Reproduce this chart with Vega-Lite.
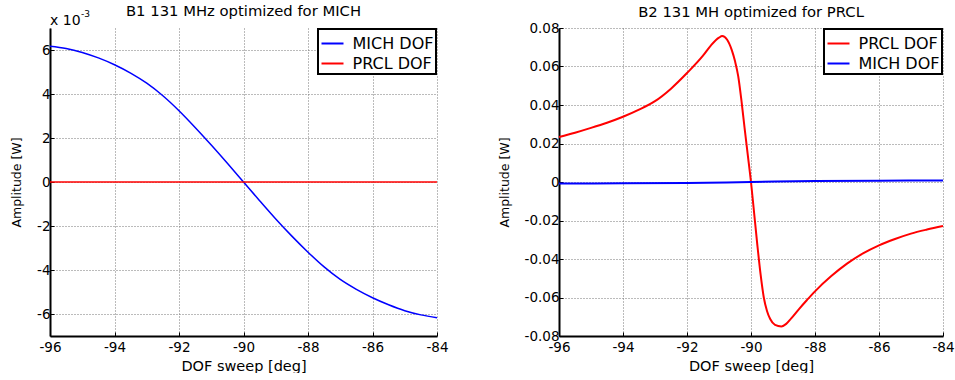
{
  "$schema": "https://vega.github.io/schema/vega-lite/v6.json",
  "background": "white",
  "padding": {"left": 10, "top": 4, "right": 0, "bottom": 0},
  "spacing": 49,
  "config": {
    "view": {"stroke": null},
    "font": "DejaVu Sans",
    "axis": {
      "domainColor": "black", "domainWidth": 2,
      "tickColor": "black", "tickSize": -4, "tickWidth": 1,
      "grid": true, "gridColor": "#777777", "gridDash": [1, 2], "gridWidth": 1, "gridOpacity": 1,
      "labelFlush": false, "labelOverlap": false,
      "labelFont": "DejaVu Sans", "labelFontSize": 13.5, "labelColor": "black",
      "titleFont": "DejaVu Sans", "titleFontWeight": "normal", "titleColor": "black"
    },
    "axisX": {"labelPadding": 8, "titlePadding": 6, "titleFontSize": 14.5},
    "axisY": {"labelPadding": 4, "titlePadding": 13, "titleFontSize": 12.5},
    "title": {"font": "DejaVu Sans", "fontSize": 14.8, "fontWeight": "normal", "color": "black"},
    "legend": {
      "orient": "top-right", "offset": 1, "title": null,
      "strokeColor": "black", "strokeWidth": 2, "fillColor": "white", "padding": 2.5,
      "symbolType": "stroke", "symbolSize": 484, "symbolStrokeWidth": 2,
      "labelFont": "DejaVu Sans", "labelFontSize": 16, "labelColor": "black", "labelOffset": 8,
      "rowPadding": -2
    }
  },
  "datasets": {
    "left": [
      {"deg": -96, "amp": 6.17, "series": "MICH DOF"},
      {"deg": -95.5, "amp": 6.07, "series": "MICH DOF"},
      {"deg": -95, "amp": 5.89, "series": "MICH DOF"},
      {"deg": -94.5, "amp": 5.64, "series": "MICH DOF"},
      {"deg": -94, "amp": 5.33, "series": "MICH DOF"},
      {"deg": -93.5, "amp": 4.95, "series": "MICH DOF"},
      {"deg": -93, "amp": 4.49, "series": "MICH DOF"},
      {"deg": -92.5, "amp": 3.92, "series": "MICH DOF"},
      {"deg": -92, "amp": 3.24, "series": "MICH DOF"},
      {"deg": -91.5, "amp": 2.48, "series": "MICH DOF"},
      {"deg": -91, "amp": 1.68, "series": "MICH DOF"},
      {"deg": -90.5, "amp": 0.85, "series": "MICH DOF"},
      {"deg": -90, "amp": 0, "series": "MICH DOF"},
      {"deg": -89.5, "amp": -0.85, "series": "MICH DOF"},
      {"deg": -89, "amp": -1.68, "series": "MICH DOF"},
      {"deg": -88.5, "amp": -2.46, "series": "MICH DOF"},
      {"deg": -88, "amp": -3.19, "series": "MICH DOF"},
      {"deg": -87.5, "amp": -3.86, "series": "MICH DOF"},
      {"deg": -87, "amp": -4.43, "series": "MICH DOF"},
      {"deg": -86.5, "amp": -4.88, "series": "MICH DOF"},
      {"deg": -86, "amp": -5.26, "series": "MICH DOF"},
      {"deg": -85.5, "amp": -5.58, "series": "MICH DOF"},
      {"deg": -85, "amp": -5.85, "series": "MICH DOF"},
      {"deg": -84.5, "amp": -6.04, "series": "MICH DOF"},
      {"deg": -84, "amp": -6.17, "series": "MICH DOF"},
      {"deg": -96, "amp": 0, "series": "PRCL DOF"},
      {"deg": -93, "amp": 0, "series": "PRCL DOF"},
      {"deg": -90, "amp": 0, "series": "PRCL DOF"},
      {"deg": -87, "amp": 0, "series": "PRCL DOF"},
      {"deg": -84, "amp": 0, "series": "PRCL DOF"}
    ],
    "right": [
      {"deg": -96, "amp": 0.0234, "series": "PRCL DOF"},
      {"deg": -95.5, "amp": 0.0256, "series": "PRCL DOF"},
      {"deg": -95, "amp": 0.0281, "series": "PRCL DOF"},
      {"deg": -94.5, "amp": 0.0308, "series": "PRCL DOF"},
      {"deg": -94, "amp": 0.0339, "series": "PRCL DOF"},
      {"deg": -93.5, "amp": 0.0376, "series": "PRCL DOF"},
      {"deg": -93, "amp": 0.0420, "series": "PRCL DOF"},
      {"deg": -92.5, "amp": 0.0485, "series": "PRCL DOF"},
      {"deg": -92, "amp": 0.0566, "series": "PRCL DOF"},
      {"deg": -91.5, "amp": 0.0656, "series": "PRCL DOF"},
      {"deg": -91.25, "amp": 0.0710, "series": "PRCL DOF"},
      {"deg": -91, "amp": 0.0750, "series": "PRCL DOF"},
      {"deg": -90.9, "amp": 0.0758, "series": "PRCL DOF"},
      {"deg": -90.75, "amp": 0.0740, "series": "PRCL DOF"},
      {"deg": -90.6, "amp": 0.0685, "series": "PRCL DOF"},
      {"deg": -90.5, "amp": 0.0628, "series": "PRCL DOF"},
      {"deg": -90.4, "amp": 0.0550, "series": "PRCL DOF"},
      {"deg": -90.3, "amp": 0.0425, "series": "PRCL DOF"},
      {"deg": -90.2, "amp": 0.0280, "series": "PRCL DOF"},
      {"deg": -90.1, "amp": 0.0140, "series": "PRCL DOF"},
      {"deg": -90, "amp": 0, "series": "PRCL DOF"},
      {"deg": -89.9, "amp": -0.0165, "series": "PRCL DOF"},
      {"deg": -89.8, "amp": -0.0330, "series": "PRCL DOF"},
      {"deg": -89.7, "amp": -0.0480, "series": "PRCL DOF"},
      {"deg": -89.6, "amp": -0.0600, "series": "PRCL DOF"},
      {"deg": -89.5, "amp": -0.0670, "series": "PRCL DOF"},
      {"deg": -89.4, "amp": -0.0712, "series": "PRCL DOF"},
      {"deg": -89.25, "amp": -0.0742, "series": "PRCL DOF"},
      {"deg": -89.05, "amp": -0.0750, "series": "PRCL DOF"},
      {"deg": -88.9, "amp": -0.0737, "series": "PRCL DOF"},
      {"deg": -88.75, "amp": -0.0710, "series": "PRCL DOF"},
      {"deg": -88.5, "amp": -0.0660, "series": "PRCL DOF"},
      {"deg": -88.25, "amp": -0.0613, "series": "PRCL DOF"},
      {"deg": -88, "amp": -0.0568, "series": "PRCL DOF"},
      {"deg": -87.5, "amp": -0.0490, "series": "PRCL DOF"},
      {"deg": -87, "amp": -0.0424, "series": "PRCL DOF"},
      {"deg": -86.5, "amp": -0.0371, "series": "PRCL DOF"},
      {"deg": -86, "amp": -0.0329, "series": "PRCL DOF"},
      {"deg": -85.5, "amp": -0.0296, "series": "PRCL DOF"},
      {"deg": -85, "amp": -0.0268, "series": "PRCL DOF"},
      {"deg": -84.5, "amp": -0.0247, "series": "PRCL DOF"},
      {"deg": -84, "amp": -0.0229, "series": "PRCL DOF"},
      {"deg": -96, "amp": -0.0008, "series": "MICH DOF"},
      {"deg": -94, "amp": -0.0007, "series": "MICH DOF"},
      {"deg": -92, "amp": -0.0005, "series": "MICH DOF"},
      {"deg": -90, "amp": 0, "series": "MICH DOF"},
      {"deg": -88, "amp": 0.0005, "series": "MICH DOF"},
      {"deg": -86, "amp": 0.0007, "series": "MICH DOF"},
      {"deg": -84, "amp": 0.0008, "series": "MICH DOF"}
    ]
  },
  "resolve": {"scale": {"color": "independent", "x": "independent", "y": "independent"}, "legend": {"color": "independent"}},
  "hconcat": [
    {
      "width": 387, "height": 308,
      "title": {"text": "B1 131 MHz optimized for MICH", "offset": -9},
      "layer": [
        {
          "data": {"name": "left"},
          "mark": {"type": "line", "strokeWidth": 1.5, "interpolate": "monotone"},
          "encoding": {
            "x": {"field": "deg", "type": "quantitative", "title": "DOF sweep [deg]",
                  "scale": {"domain": [-96, -84], "nice": false},
                  "axis": {"values": [-96, -94, -92, -90, -88, -86, -84], "labelExpr": "datum.value + ''"}},
            "y": {"field": "amp", "type": "quantitative", "title": "Amplitude [W]",
                  "scale": {"domain": [-7, 7], "nice": false},
                  "axis": {"values": [-6, -4, -2, 0, 2, 4, 6], "labelExpr": "datum.value + ''"}},
            "color": {"field": "series", "type": "nominal",
                      "scale": {"domain": ["MICH DOF", "PRCL DOF"], "range": ["#0000ff", "#ff0000"]},
                      "legend": {"orient": "top-right"}}
          }
        },
        {
          "data": {"values": [{}]},
          "mark": {"type": "text", "text": "x 10", "align": "left", "baseline": "alphabetic", "dy": -3, "fontSize": 14, "font": "DejaVu Sans", "color": "black"},
          "encoding": {"x": {"datum": -96}, "y": {"datum": 7}}
        },
        {
          "data": {"values": [{}]},
          "mark": {"type": "text", "text": "-3", "align": "left", "baseline": "alphabetic", "dx": 31, "dy": -11, "fontSize": 9, "font": "DejaVu Sans", "color": "black"},
          "encoding": {"x": {"datum": -96}, "y": {"datum": 7}}
        }
      ]
    },
    {
      "width": 384, "height": 308,
      "title": {"text": "B2 131 MH optimized for PRCL", "offset": 1},
      "data": {"name": "right"},
      "mark": {"type": "line", "strokeWidth": 2, "interpolate": "monotone"},
      "encoding": {
        "x": {"field": "deg", "type": "quantitative", "title": "DOF sweep [deg]",
              "scale": {"domain": [-96, -84], "nice": false},
              "axis": {"values": [-96, -94, -92, -90, -88, -86, -84], "labelExpr": "datum.value + ''"}},
        "y": {"field": "amp", "type": "quantitative", "title": "Amplitude [W]",
              "scale": {"domain": [-0.08, 0.08], "nice": false},
              "axis": {"values": [-0.08, -0.06, -0.04, -0.02, 0, 0.02, 0.04, 0.06, 0.08], "labelExpr": "datum.value + ''"}},
        "color": {"field": "series", "type": "nominal",
                  "scale": {"domain": ["PRCL DOF", "MICH DOF"], "range": ["#ff0000", "#0000ff"]},
                  "legend": {"orient": "top-right"}}
      }
    }
  ]
}
